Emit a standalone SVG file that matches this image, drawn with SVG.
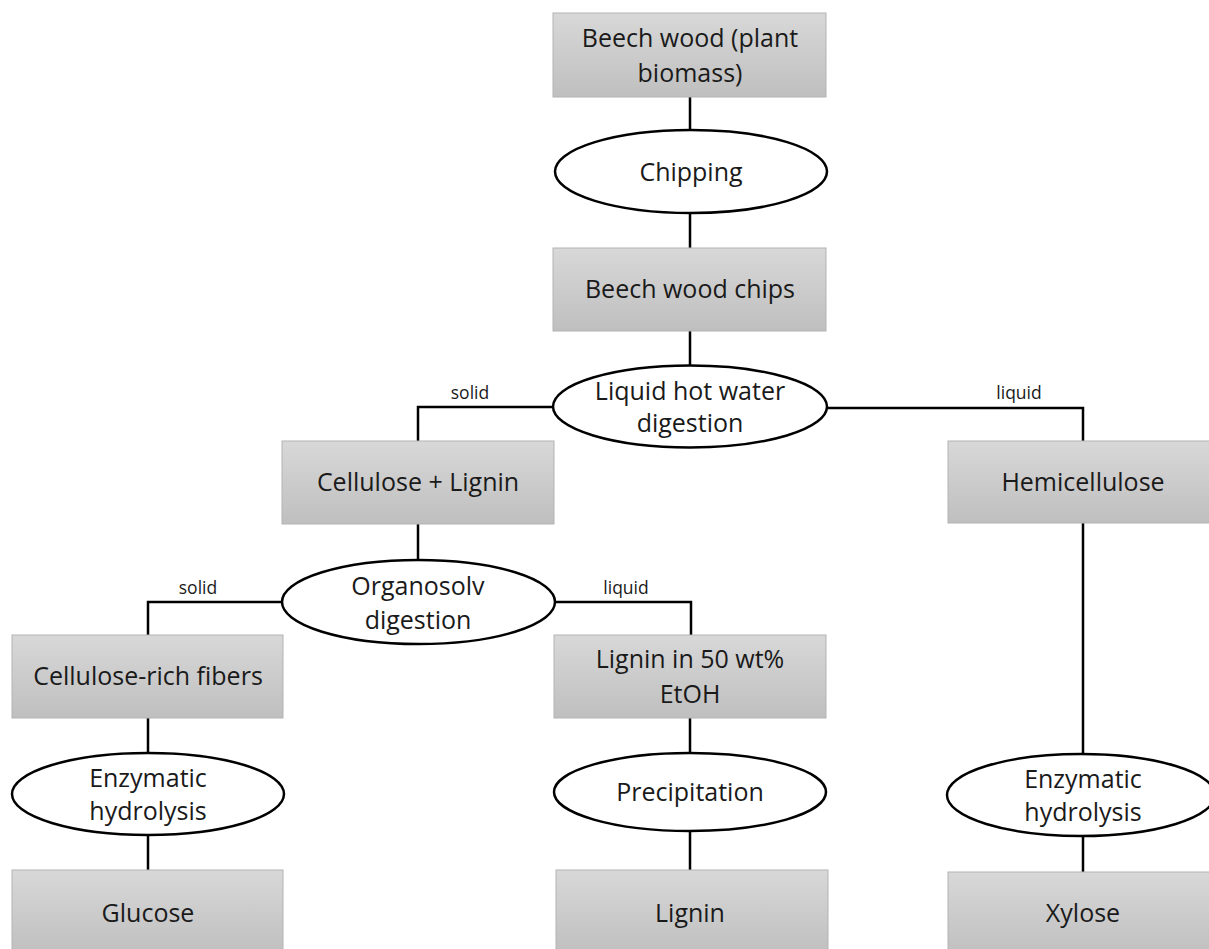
<svg xmlns="http://www.w3.org/2000/svg" width="1209" height="949" viewBox="0 0 1209 949">
<defs>
<linearGradient id="g" x1="0" y1="0" x2="0" y2="1">
<stop offset="0" stop-color="#d8d8d8"/>
<stop offset="1" stop-color="#bfbfbf"/>
</linearGradient>
<style>
.box{fill:url(#g);stroke:#b3b3b3;stroke-width:1}
.ell{fill:#fff;stroke:#000;stroke-width:2.5}
.t{font-family:"Open Sans","Liberation Sans",sans-serif;font-size:25px;fill:#1a1a1a;text-anchor:middle}
.s{font-family:"Open Sans","Liberation Sans",sans-serif;font-size:17.5px;fill:#1a1a1a;text-anchor:middle}
.c{fill:none;stroke:#000;stroke-width:2.5}
</style>
</defs>
<rect width="1209" height="949" fill="#fff"/>
<g id="connectors">
<path class="c" d="M690 97V131M690 212V248M690 331V366"/>
<path class="c" d="M553 407H418V441"/>
<path class="c" d="M827 408H1083V441"/>
<path class="c" d="M418 524V560"/>
<path class="c" d="M282 602H148V635"/>
<path class="c" d="M555 602H691V635"/>
<path class="c" d="M148 718V753M148 835V870"/>
<path class="c" d="M690 718V753M690 831V870"/>
<path class="c" d="M1083 523V753M1083 836V872"/>
</g>
<g id="labels">
<text class="s" x="470" y="399">solid</text>
<text class="s" x="1019" y="399">liquid</text>
<text class="s" x="198" y="594">solid</text>
<text class="s" x="626" y="594">liquid</text>
</g>
<g id="n1"><rect class="box" x="553" y="13" width="273" height="84"/><text class="t" x="690" y="47">Beech wood (plant</text><text class="t" x="690" y="82">biomass)</text></g>
<g id="n2"><ellipse class="ell" cx="691" cy="171.5" rx="136" ry="41.5"/><text class="t" x="691" y="181">Chipping</text></g>
<g id="n3"><rect class="box" x="553" y="248" width="273" height="83"/><text class="t" x="690" y="298">Beech wood chips</text></g>
<g id="n4"><ellipse class="ell" cx="690" cy="406.5" rx="137" ry="41"/><text class="t" x="690" y="400">Liquid hot water</text><text class="t" x="690" y="432">digestion</text></g>
<g id="n5"><rect class="box" x="282" y="441" width="272" height="83"/><text class="t" x="418" y="491">Cellulose + Lignin</text></g>
<g id="n6"><rect class="box" x="948" y="441" width="272" height="82"/><text class="t" x="1083" y="491">Hemicellulose</text></g>
<g id="n7"><ellipse class="ell" cx="418.5" cy="602" rx="136.5" ry="42"/><text class="t" x="418" y="595">Organosolv</text><text class="t" x="418" y="629">digestion</text></g>
<g id="n8"><rect class="box" x="12" y="635" width="271" height="83"/><text class="t" x="148" y="685">Cellulose-rich fibers</text></g>
<g id="n9"><rect class="box" x="554" y="635" width="272" height="83"/><text class="t" x="690" y="668">Lignin in 50 wt%</text><text class="t" x="690" y="703">EtOH</text></g>
<g id="n10"><ellipse class="ell" cx="148" cy="794" rx="136" ry="41"/><text class="t" x="148" y="787">Enzymatic</text><text class="t" x="148" y="820">hydrolysis</text></g>
<g id="n11"><ellipse class="ell" cx="690" cy="792" rx="136" ry="39"/><text class="t" x="690" y="801">Precipitation</text></g>
<g id="n12"><ellipse class="ell" cx="1081" cy="795" rx="134" ry="41"/><text class="t" x="1083" y="788">Enzymatic</text><text class="t" x="1083" y="821">hydrolysis</text></g>
<g id="n13"><rect class="box" x="12" y="870" width="271" height="85"/><text class="t" x="148" y="922">Glucose</text></g>
<g id="n14"><rect class="box" x="556" y="870" width="272" height="85"/><text class="t" x="690" y="922">Lignin</text></g>
<g id="n15"><rect class="box" x="948" y="872" width="272" height="85"/><text class="t" x="1083" y="922">Xylose</text></g>
</svg>
